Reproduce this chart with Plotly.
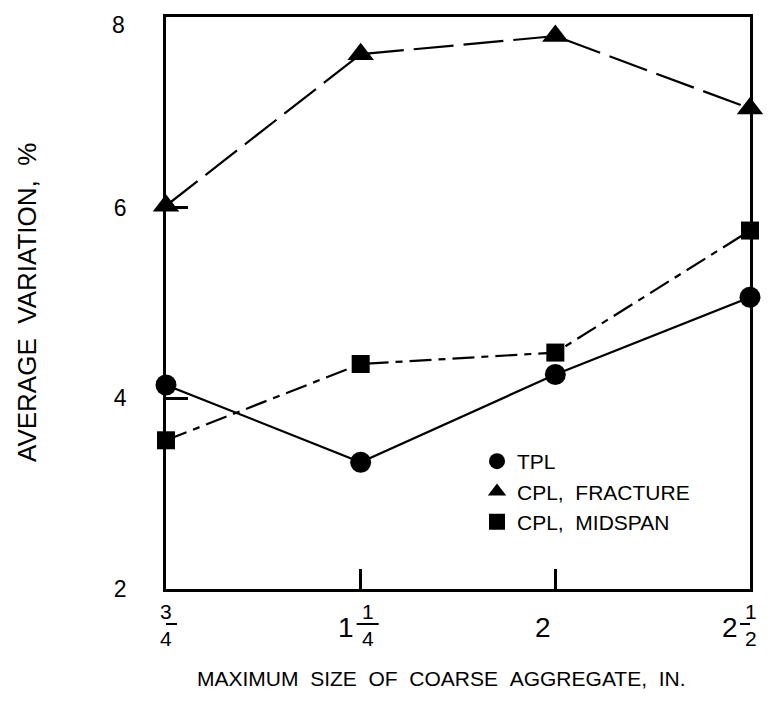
import plotly.graph_objects as go

# ---- data ----
categories = [0, 1, 2, 3]  # equally spaced aggregate sizes
tick_whole = ["", "1", "2", "2"]
tick_num = ["3", "1", "", "1"]
tick_den = ["4", "4", "", "2"]
tpl = [4.14, 3.33, 4.25, 5.06]
cpl_fracture = [6.02, 7.61, 7.80, 7.04]
cpl_midspan = [3.56, 4.36, 4.48, 5.76]
y_ticks = [2, 4, 6, 8]

NB = "\u00a0"
FONT = "Liberation Sans, Arial, Helvetica, sans-serif"

# page body has an 8px margin; plot area targeted at screen x 166..750, y 17..589
W, H = 763, 702
L, R, T, B = 158, 21, 9, 121
PW = W - L - R  # 584
PH = H - T - B  # 572

fig = go.Figure()

series = [
    ("TPL", tpl, "circle", 21, "solid"),
    ("CPL," + NB + NB + "FRACTURE", cpl_fracture, "triangle-up", 23, "40px,10px"),
    ("CPL," + NB + NB + "MIDSPAN", cpl_midspan, "square", 18, "22px,7px,7px,7px"),
]

for name, vals, sym, size, dash in series:
    fig.add_trace(go.Scatter(
        x=categories, y=vals, mode="lines+markers", showlegend=False,
        line=dict(color="black", width=2.2, dash=dash),
        marker=dict(symbol=sym, size=size, color="black"),
        cliponaxis=False,
    ))

for name, vals, sym, size, dash in series:
    fig.add_trace(go.Scatter(
        x=[None], y=[None], mode="markers", name=name,
        marker=dict(symbol=sym, size=size, color="black"),
    ))

# x tick labels (mixed numbers) as annotations + fraction bars
whole_shift = [0, -5, -12, -10]
frac_shift = [0, 7, 0, 1]
for i, c in enumerate(categories):
    if tick_whole[i]:
        fig.add_annotation(
            x=c, y=0, xref="x", yref="paper",
            text=tick_whole[i], showarrow=False,
            xanchor="right" if tick_num[i] else "center",
            yanchor="middle", xshift=whole_shift[i], yshift=-38,
            font=dict(size=28, color="black", family=FONT),
        )
    if tick_num[i]:
        fig.add_annotation(
            x=c, y=0, xref="x", yref="paper",
            text=tick_num[i] + "<br>" + tick_den[i],
            showarrow=False, xanchor="center",
            yanchor="middle", xshift=frac_shift[i], yshift=-36,
            font=dict(size=21, color="black", family=FONT),
        )
        fig.add_shape(
            type="line", xref="x", yref="paper",
            xsizemode="pixel", xanchor=c,
            ysizemode="pixel", yanchor=0,
            x0=frac_shift[i] - 11, x1=frac_shift[i] + 11,
            y0=-35, y1=-35,
            line=dict(color="black", width=2),
        )

# top y tick label sits a little lower (as in the original, inside the page)
top_tick = y_ticks[-1]
fig.add_annotation(
    x=0, y=top_tick, xref="paper", yref="y",
    text=str(top_tick), showarrow=False,
    xanchor="right", yanchor="middle", xshift=-39, yshift=-8,
    font=dict(size=23, color="black", family=FONT),
)

# axis titles as annotations
fig.add_annotation(
    x=(441 - 166) / PW, y=0, xref="paper", yref="paper",
    text=(NB + NB).join(["MAXIMUM", "SIZE", "OF", "COARSE", "AGGREGATE,", "IN."]),
    showarrow=False, xanchor="center", yanchor="middle", yshift=-89,
    font=dict(size=21, color="black", family=FONT),
)
fig.add_annotation(
    x=(27 - 166) / PW, y=0.5, xref="paper", yref="paper",
    text=(NB + NB).join(["AVERAGE", "VARIATION,", "%"]),
    showarrow=False, textangle=-90, xanchor="center", yanchor="middle",
    font=dict(size=26, color="black", family=FONT),
)

fig.update_layout(
    width=W, height=H,
    margin=dict(l=L, r=R, t=T, b=B),
    paper_bgcolor="white", plot_bgcolor="white",
    font=dict(family=FONT, color="black", size=21),
    legend=dict(
        x=(477 - 166) / PW, y=(589 - 441) / PH, xanchor="left", yanchor="top",
        bgcolor="rgba(0,0,0,0)", font=dict(size=21, family=FONT, color="black"),
        itemsizing="trace",
    ),
)
fig.update_xaxes(
    range=[0, 3], tickvals=categories, ticktext=["" for _ in categories],
    showgrid=False, zeroline=False, automargin=False,
    showline=True, linecolor="black", linewidth=2.5, mirror=True,
    ticks="inside", ticklen=20, tickwidth=2.5, tickcolor="black",
)
fig.update_yaxes(
    range=[2, 8], tickvals=y_ticks,
    ticktext=[str(v) if v != top_tick else "" for v in y_ticks],
    showgrid=False, zeroline=False, automargin=False,
    showline=True, linecolor="black", linewidth=2.5, mirror=True,
    ticks="inside", ticklen=22, tickwidth=2.5, tickcolor="black",
    tickfont=dict(size=23, family=FONT, color="black"),
    ticklabelstandoff=32,
)

fig.write_html("out.html")
